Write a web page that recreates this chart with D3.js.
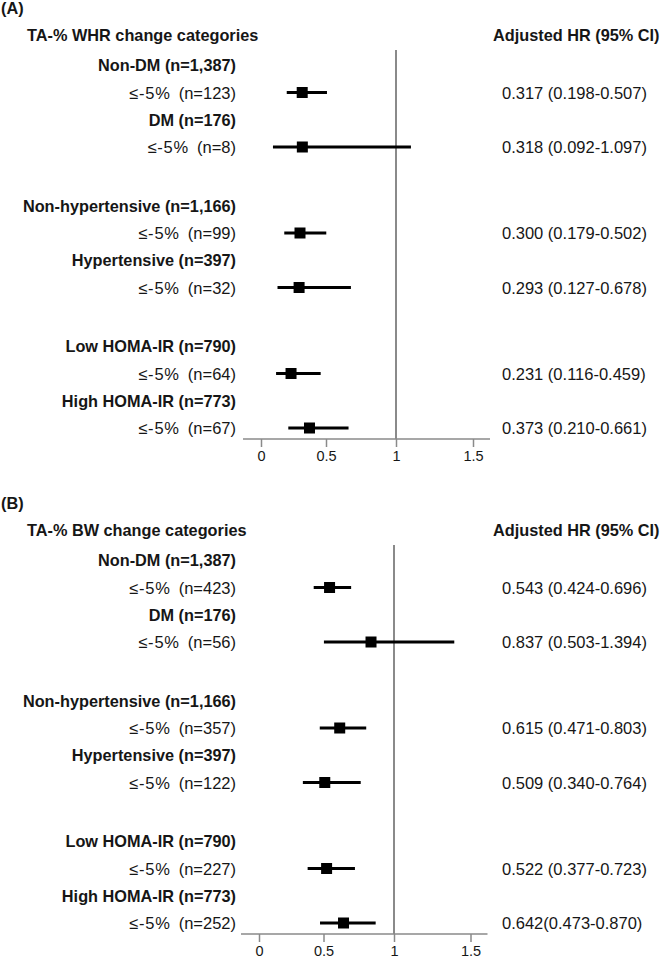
<!DOCTYPE html>
<html>
<head>
<meta charset="utf-8">
<script src="https://cdn.jsdelivr.net/npm/d3@7"></script>
<style>
  html, body { margin: 0; padding: 0; background: #fff; }
  svg text { font-family: "Liberation Sans", Arial, sans-serif; fill: #161616; white-space: pre; }
</style>
</head>
<body>
<svg id="chart" width="661" height="960"></svg>
<script>
// ---------- data ----------
const panelLabels = ["(A)", "(B)"];
const panelTitles = ["TA-% WHR change categories", "TA-% BW change categories"];
const hrHeader = "Adjusted HR (95% CI)";
const subgroups = ["Non-DM (n=1,387)", "DM (n=176)", "Non-hypertensive (n=1,166)",
                   "Hypertensive (n=397)", "Low HOMA-IR (n=790)", "High HOMA-IR (n=773)"];
const category = "≤-5%";

const nA = [123, 8, 99, 32, 64, 67];
const hrA = [0.317, 0.318, 0.300, 0.293, 0.231, 0.373];
const lowA = [0.198, 0.092, 0.179, 0.127, 0.116, 0.210];
const highA = [0.507, 1.097, 0.502, 0.678, 0.459, 0.661];
const hrTextA = ["0.317 (0.198-0.507)", "0.318 (0.092-1.097)", "0.300 (0.179-0.502)",
                 "0.293 (0.127-0.678)", "0.231 (0.116-0.459)", "0.373 (0.210-0.661)"];

const nB = [423, 56, 357, 122, 227, 252];
const hrB = [0.543, 0.837, 0.615, 0.509, 0.522, 0.642];
const lowB = [0.424, 0.503, 0.471, 0.340, 0.377, 0.473];
const highB = [0.696, 1.394, 0.803, 0.764, 0.723, 0.870];
const hrTextB = ["0.543 (0.424-0.696)", "0.837 (0.503-1.394)", "0.615 (0.471-0.803)",
                 "0.509 (0.340-0.764)", "0.522 (0.377-0.723)", "0.642(0.473-0.870)"];

const tickValues = [0, 0.5, 1, 1.5];
const tickLabels = ["0", "0.5", "1", "1.5"];

// ---------- drawing ----------
const svg = d3.select("#chart");
const FSB = 16.3;   // bold text
const FSR = 16.5;   // regular text

function drawPanel(p, top, n, hr, lo, hi, hrText, xRange) {
  const g = svg.append("g").attr("transform", `translate(0,${top})`);
  const x = d3.scaleLinear().domain(tickValues).range(xRange);

  const yHeader = i => 65 + Math.floor(i / 2) * 140.5 + (i % 2) * 54.5;
  const yItem = i => yHeader(i) + 27.5;
  const axisY = 439;

  g.append("text").attr("x", 1).attr("y", 14).attr("font-size", FSB).attr("font-weight", "bold")
    .text(panelLabels[p]);
  g.append("text").attr("x", 27).attr("y", 41).attr("font-size", FSB).attr("font-weight", "bold")
    .text(panelTitles[p]);
  g.append("text").attr("x", 493).attr("y", 41).attr("font-size", FSB).attr("font-weight", "bold")
    .text(hrHeader);

  // reference line at HR = 1
  g.append("line").attr("x1", x(1)).attr("x2", x(1)).attr("y1", 50).attr("y2", axisY)
    .attr("stroke", "#8a8a8a").attr("stroke-width", 2);

  // axis
  const axis = d3.axisBottom(x).tickValues(tickValues)
    .tickFormat((d, i) => tickLabels[i]).tickSize(8).tickPadding(4);
  const ag = g.append("g").attr("transform", `translate(0,${axisY})`).call(axis);
  ag.select(".domain").remove();
  ag.selectAll(".tick line").attr("stroke", "#8a8a8a").attr("stroke-width", 1.5);
  ag.selectAll(".tick text").attr("font-size", 14.5).attr("fill", "#161616")
    .attr("font-family", "Liberation Sans, Arial, sans-serif");
  ag.append("line").attr("x1", x(0) - 18).attr("x2", x(1.5) + 17).attr("y1", 0).attr("y2", 0)
    .attr("stroke", "#8a8a8a").attr("stroke-width", 1.5);

  subgroups.forEach((s, i) => {
    g.append("text").attr("x", 236).attr("y", yHeader(i) + 6).attr("font-size", FSB)
      .attr("font-weight", "bold").attr("text-anchor", "end").text(s);
    const t = g.append("text").attr("x", 236).attr("y", yItem(i) + 6).attr("font-size", FSR)
      .attr("text-anchor", "end");
    t.append("tspan").attr("letter-spacing", 0.8).text(category);
    t.append("tspan").attr("dx", 8).text(`(n=${n[i]})`);
    g.append("line").attr("x1", x(lo[i])).attr("x2", x(hi[i]))
      .attr("y1", yItem(i)).attr("y2", yItem(i))
      .attr("stroke", "#000").attr("stroke-width", 3.2);
    g.append("rect").attr("x", x(hr[i]) - 5.5).attr("y", yItem(i) - 5.5)
      .attr("width", 11).attr("height", 11).attr("fill", "#000");
    g.append("text").attr("x", 502).attr("y", yItem(i) + 6).attr("font-size", FSR)
      .text(hrText[i]);
  });
}

drawPanel(0, 0, nA, hrA, lowA, highA, hrTextA, [261, 326, 396, 473]);
drawPanel(1, 495, nB, hrB, lowB, highB, hrTextB, [259, 323.5, 394, 470.5]);
</script>
</body>
</html>
